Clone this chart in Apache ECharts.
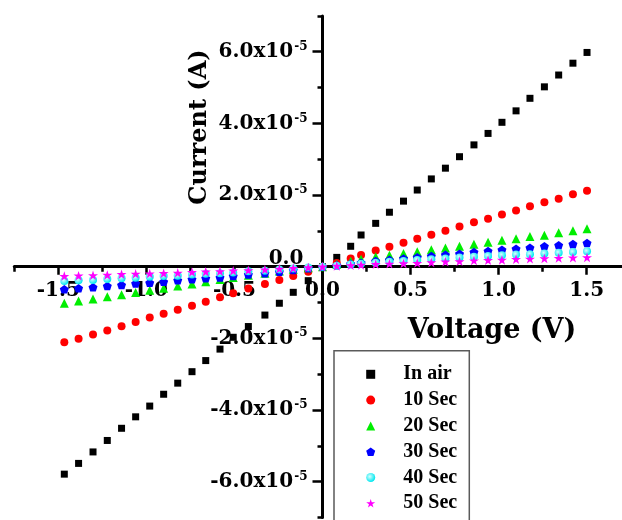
<!DOCTYPE html>
<html><head><meta charset="utf-8">
<script src="https://cdn.jsdelivr.net/npm/echarts@6/dist/echarts.min.js"></script>
<style>html,body{margin:0;padding:0;background:#fff}#c{width:622px;height:520px}</style>
</head><body><div id="c"></div>
<script>
// Voltage (V)
const voltage = [-1.466,-1.385,-1.303,-1.222,-1.141,-1.061,-0.981,-0.902,-0.822,-0.741,-0.663,-0.582,-0.507,-0.421,-0.327,-0.245,-0.166,-0.081,
  0,
  0.081,0.160,0.219,0.302,0.380,0.460,0.538,0.618,0.698,0.778,0.860,0.940,1.019,1.099,1.178,1.260,1.341,1.422,1.502];
// Current in units of 1e-5 A
const inAir = [-5.79,-5.49,-5.17,-4.85,-4.51,-4.19,-3.89,-3.56,-3.25,-2.93,-2.62,-2.30,-1.97,-1.67,-1.35,-1.02,-0.715,-0.39,
  0,
  0.26,0.57,0.885,1.21,1.52,1.83,2.14,2.45,2.75,3.07,3.40,3.72,4.03,4.35,4.70,5.02,5.35,5.68,5.98];
const sec10 = [-2.11,-2.01,-1.89,-1.78,-1.66,-1.54,-1.42,-1.31,-1.20,-1.09,-0.98,-0.85,-0.74,-0.61,-0.48,-0.37,-0.26,-0.14,
  0,
  0.10,0.23,0.33,0.45,0.56,0.67,0.78,0.89,1.00,1.12,1.24,1.34,1.46,1.57,1.69,1.80,1.90,2.02,2.12];
const sec20 = [-1.02,-0.96,-0.90,-0.84,-0.78,-0.72,-0.66,-0.60,-0.54,-0.48,-0.42,-0.36,-0.30,-0.24,-0.18,-0.12,-0.07,-0.03,
  0,
  0.07,0.15,0.21,0.28,0.32,0.37,0.42,0.47,0.52,0.57,0.63,0.68,0.74,0.78,0.84,0.88,0.95,1.00,1.06];
const sec30 = [-0.63,-0.60,-0.575,-0.54,-0.51,-0.47,-0.45,-0.42,-0.38,-0.35,-0.32,-0.30,-0.26,-0.22,-0.18,-0.14,-0.09,-0.045,
  0,
  0.04,0.08,0.11,0.16,0.19,0.23,0.26,0.30,0.33,0.36,0.41,0.44,0.47,0.50,0.53,0.57,0.60,0.63,0.66];
const sec40 = [-0.40,-0.38,-0.37,-0.34,-0.32,-0.31,-0.28,-0.26,-0.25,-0.22,-0.20,-0.18,-0.16,-0.13,-0.11,-0.08,-0.05,-0.025,
  0,
  0.03,0.06,0.08,0.11,0.14,0.16,0.19,0.21,0.23,0.26,0.28,0.30,0.32,0.34,0.35,0.37,0.39,0.41,0.43];
const sec50 = [-0.26,-0.25,-0.24,-0.23,-0.21,-0.20,-0.19,-0.18,-0.17,-0.15,-0.14,-0.13,-0.11,-0.10,-0.08,-0.06,-0.04,-0.02,
  0,
  0.02,0.04,0.05,0.07,0.08,0.09,0.10,0.12,0.14,0.15,0.17,0.18,0.19,0.21,0.22,0.23,0.24,0.25,0.26];

const seriesNames = ['In air','10 Sec','20 Sec','30 Sec','40 Sec','50 Sec'];
const xMajorTicks = [-1.5,-1.0,-0.5,0,0.5,1.0,1.5];
const xMinorTicks = [-1.75,-1.25,-0.75,-0.25,0.25,0.75,1.25];
const yMajorTicks = [-6,-4,-2,0,2,4,6];
const yMinorTicks = [-7,-5,-3,-1,1,3,5,7];

const pentagon = 'path://M50,0 L97.6,34.5 L79.4,90.5 L20.6,90.5 L2.4,34.5 Z';
const star = 'path://M50,0 L61.2,34.5 L97.6,34.5 L68.2,55.9 L79.4,90.5 L50,69.1 L20.6,90.5 L31.8,55.9 L2.4,34.5 L38.8,34.5 Z';
const cyanBall = {type:'radial', x:0.4, y:0.4, r:0.6, colorStops:[{offset:0,color:'#d8ffff'},{offset:1,color:'#00e8f0'}]};

const styles = [
  {symbol:'rect', size:7, color:'#000000'},
  {symbol:'circle', size:8, color:'#ff0000'},
  {symbol:'triangle', size:9, color:'#00ee00'},
  {symbol:pentagon, size:9, color:'#0000ff'},
  {symbol:'circle', size:8, color:cyanBall},
  {symbol:star, size:10, color:'#ff00ff'}
];
const values = [inAir, sec10, sec20, sec30, sec40, sec50];

const W = 622, H = 520;
const X_MIN = -1.75, X_MAX = 1.75, Y_MIN = -7, Y_MAX = 7;
const G = {left:14.3, right:-8.7, top:15.9, bottom:2.5};
const gw = W - G.left - G.right, gh = H - G.top - G.bottom;
// offsets that move the axes onto the zero lines of each other
const yOff = -((0 - X_MIN) / (X_MAX - X_MIN) * gw);
const xOff = -((0 - Y_MIN) / (Y_MAX - Y_MIN) * gh);

const tickFont = {fontFamily:'DejaVu Serif', fontWeight:'bold', color:'#000'};
const AXIS_W = 3;
const isIn = (arr, v) => arr.some(t => Math.abs(t - v) < 1e-6);

const chart = echarts.init(document.getElementById('c'), null, {renderer:'canvas'});
chart.setOption({
  animation:false,
  backgroundColor:'#fff',
  grid:{left:G.left, right:G.right, top:G.top, bottom:G.bottom, containLabel:false, outerBoundsMode:'none'},
  xAxis:[
    {type:'value', min:X_MIN, max:X_MAX, interval:0.25, position:'bottom', offset:xOff,
     axisLine:{show:true, onZero:false, lineStyle:{color:'#000', width:AXIS_W}},
     axisTick:{show:true, customValues:xMajorTicks, length:8, lineStyle:{color:'#000', width:2.5}},
     axisLabel:{show:true, margin:14, fontSize:20, ...tickFont, showMinLabel:true, showMaxLabel:true, hideOverlap:false,
       formatter:v=> isIn(xMajorTicks, v) ? (+v).toFixed(1) : ''},
     splitLine:{show:false}},
    {type:'value', min:X_MIN, max:X_MAX, interval:0.25, position:'bottom', offset:xOff,
     axisLine:{show:false, onZero:false},
     axisTick:{show:true, customValues:xMinorTicks, length:5, lineStyle:{color:'#000', width:2.5}},
     axisLabel:{show:false}, splitLine:{show:false}}
  ],
  yAxis:[
    {type:'value', min:Y_MIN, max:Y_MAX, interval:1, position:'left', offset:yOff,
     axisLine:{show:true, onZero:false, lineStyle:{color:'#000', width:AXIS_W}},
     axisTick:{show:true, customValues:yMajorTicks, length:10, lineStyle:{color:'#000', width:2.5}},
     axisLabel:{show:true, margin:15, showMinLabel:true, showMaxLabel:true, hideOverlap:false,
       formatter:v=> !isIn(yMajorTicks, v) ? '' : (Math.abs(v) < 1e-9 ? '{z|0.0}' : '{a|'+(+v).toFixed(1)+'x10}{s|-5}'),
       rich:{
         a:{fontSize:20, ...tickFont, lineHeight:22},
         s:{fontSize:12, ...tickFont, verticalAlign:'top', lineHeight:12, padding:[0,0,0,1]},
         z:{fontSize:20, ...tickFont, lineHeight:22, padding:[0,4,15,0]}
       }},
     splitLine:{show:false}},
    {type:'value', min:Y_MIN, max:Y_MAX, interval:1, position:'left', offset:yOff,
     axisLine:{show:false, onZero:false},
     axisTick:{show:true, customValues:yMinorTicks, length:5, lineStyle:{color:'#000', width:2.5}},
     axisLabel:{show:false}, splitLine:{show:false}}
  ],
  legend:{
    orient:'vertical', left:334, top:350.7,
    padding:[13.6,12,0,32.2],
    itemWidth:9, itemHeight:9, itemGap:5.8,
    borderWidth:0,
    textStyle:{fontFamily:'Liberation Serif', fontWeight:'bold', fontSize:20, color:'#000', lineHeight:20, padding:[0,0,0,23.1]},
    data:seriesNames
  },
  graphic:[
    {type:'rect', x:334, y:350.7, shape:{x:0, y:0, width:135.3, height:190}, style:{fill:'none', stroke:'#5a5a5a', lineWidth:1.5}, z:-1, silent:true},
    {type:'text', x:492, y:331, style:{text:'Voltage (V)', font:'bold 27px "DejaVu Serif"', fill:'#000', align:'center', verticalAlign:'middle'}},
    {type:'text', x:200, y:127, rotation:Math.PI/2, style:{text:'Current (A)', font:'bold 24px "DejaVu Serif"', fill:'#000', align:'center', verticalAlign:'middle'}}
  ],
  series: seriesNames.map((name,i)=>({
    name, type:'scatter', xAxisIndex:0, yAxisIndex:0,
    symbol:styles[i].symbol, symbolSize:styles[i].size, symbolKeepAspect:true,
    itemStyle:{color:styles[i].color, opacity:1},
    emphasis:{disabled:true},
    data: voltage.map((v,j)=>[v, values[i][j]]),
    z: 2+i
  }))
});
</script></body></html>
